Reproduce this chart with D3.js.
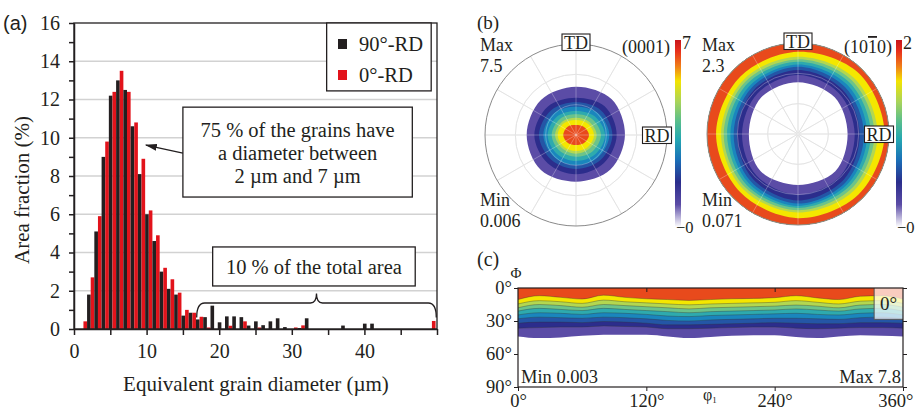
<!DOCTYPE html>
<html>
<head>
<meta charset="utf-8">
<script src="https://cdn.jsdelivr.net/npm/d3@7"></script>
<style>
  body { margin: 0; background: #fff; }
  svg { display: block; font-family: "Liberation Serif", "Times New Roman", serif; }
</style>
</head>
<body>
<div id="chart"></div>
<script>
// ---------------- data ----------------
// (a) grain size histogram, 1 µm bins
const binStart = [1,2,3,4,5,6,7,8,9,10,11,12,13,14,15,16,17,18,19,20,21,22,23,24,25,
  26,27,28,29,30,31,32,33,34,35,36,37,38,39,40,41,42,43,44,45,46,47,48,49];
const rd90 = [0,1.8,5.1,9.0,12.2,13.0,12.5,10.6,8.1,6.0,
  4.6,3.0,2.1,1.8,0.7,0.85,0.5,0.62,1.22,0.35,
  0.66,0.66,0.62,0.18,0.4,0.2,0.4,0.56,0.1,0,
  0.05,0.56,0,0,0,0,0.18,0,0,0.28,
  0.28,0,0,0,0,0,0,0,0];
const rd0 = [0.4,2.7,5.9,9.8,12.4,13.5,12.4,10.8,8.9,6.2,
  4.9,3.2,2.6,1.9,1.0,0.85,0.64,0.08,0,0,
  0.17,0,0.4,0,0.08,0,0,0,0,0.08,
  0.19,0,0,0,0,0,0,0,0,0,
  0,0,0,0,0,0,0,0,0.42];
const yTicksA = [0,2,4,6,8,10,12,14,16];
const xTicksA = [0,5,10,15,20,25,30,35,40,45,50];

// (b) pole figures: contour radii (% of pole figure radius) at these angles (0 = RD, 90 = TD)
const pfAngles = [0,45,90,135,180,225,270,315];
const levelColors = ["#5b4ca6","#2c2d8c","#2456a6","#1a86bd","#2eaaae","#6cc38a","#b3d750","#f4e700","#e84a1c"];
// (0001): outer edge of each level, low -> high
const pf0001 = [
  [53.8,55.5,53.1,54.5,54.2,54.5,51.3,53.5],
  [44.7,44.5,41,44,45.8,44,43.2,43.5],
  [40,38.5,35.9,38.5,40.7,38.5,37.4,38.5],
  [36.6,34,31.1,34,35.9,34,33,34.5],
  [31.9,29,26.4,29,31.1,29.5,28.6,30],
  [27.5,25,22.7,25,26.7,25,23.8,25.5],
  [22.7,20.5,19,21,23,21,20.5,21],
  [19.8,18,16.5,18.5,20.1,18.5,17.6,18.5],
  [14.3,12.5,11,13,14,12.5,11,12.5]
];
// (10-10): inner edge of each level, low -> high
const pf1010 = [
  [54.5,57,57,57,54,58,56,58],
  [62.3,63.5,64.8,63,61.5,64.5,66.7,65.5],
  [67.8,69,70.3,68.5,67,70,73,71],
  [72.5,73,74,72,70.7,73.5,76.5,74.5],
  [76,76.5,76.5,75,74.3,76.5,79,77.5],
  [80,80,79.4,78.5,77.9,79.5,81.2,80.5],
  [84,83.5,82,81.5,81.6,82.5,83.8,84],
  [87.5,87,84.9,84.5,84.5,85.5,86.3,87.5],
  [95.1,94.5,90.4,89.5,90,90,92.5,94]
];

// (c) ODF section: lower Φ boundary of each band (top band first) along φ1
const phi1 = [0,20,40,60,80,100,120,140,160,180,200,220,240,260,280,300,320,340,360];
const cBounds = [
  [10.5,7,8.5,10,6.5,8.5,9.8,10.5,11.3,10.5,9.8,9.5,8.8,7,9,10.5,7.5,7,10],
  [14.5,11.5,12.5,14,11,12.5,13.5,14.5,15.3,14.5,14,13.5,13,11.5,13,14.5,12,11.5,14],
  [18,15,16,17.5,15,16,17,18,19,18,17.5,17,16.5,15.5,16.5,18,15.5,15,17.5],
  [21,18.5,19.5,20.5,18.5,19.5,20.5,21.5,22.5,21.5,21,20.5,20,19,20,21,19,18.5,21],
  [24.5,22.5,23,24,22.5,23,24,25.5,26,25,24.5,24,23.5,23,24,24.5,23,22.5,24.5],
  [28,26.5,27,27.5,26.5,27,28,29.5,30,29,28.5,28,27.5,27.5,28,28.5,27,26.5,28],
  [32,31,31,31.5,30.5,31,32,33.5,33.5,33,32.5,32,31.5,32,32.5,32.5,31.5,31.5,32],
  [36.5,36,35.5,35.5,34.5,35,35.5,37,37,36.5,36,35.5,35.5,36.5,37,36.5,36,36,36.5],
  [44,45.5,45,43.5,42.5,42.5,42.5,44,45.5,44.5,43.5,43,43,44.5,45.5,44,43,43.5,44]
];
const yTicksC = [0,30,60,90];
const xTicksC = [0,120,240,360];

// ---------------- setup ----------------
const ink = "#231f20";
const svg = d3.select("#chart").append("svg").attr("width", 915).attr("height", 411);
svg.append("rect").attr("width", 915).attr("height", 411).attr("fill", "#fff");

function label(g, x, y, str, size, anchor) {
  return g.append("text").attr("x", x).attr("y", y).attr("font-size", size)
    .attr("text-anchor", anchor || "start").attr("fill", ink).text(str);
}
function styleAxis(g, size) {
  g.attr("font-family", null).attr("font-size", size);
  g.selectAll("line,path").attr("stroke", ink).attr("stroke-width", 1.5);
  g.selectAll("text").attr("fill", ink);
}

////////////////////////////  (a)  ////////////////////////////
const xA = d3.scaleLinear().domain([0, 50]).range([74, 437]);
const yA = d3.scaleLinear().domain([0, 16]).range([329, 23]);
const gA = svg.append("g");

// grid
gA.selectAll(".grid").data(yTicksA.slice(1, -1)).join("line")
  .attr("x1", xA(0)).attr("x2", xA(50))
  .attr("y1", d => yA(d)).attr("y2", d => yA(d))
  .attr("stroke", "#d2d2d2").attr("stroke-width", 1.5);

// bars
svg.append("clipPath").attr("id", "clipA").append("rect")
  .attr("x", xA(0)).attr("y", yA(16)).attr("width", xA(50) - xA(0)).attr("height", yA(0) - yA(16));
const barW = xA(0.5) - xA(0);
const barData = binStart.flatMap((b, i) => [
  { x: b - 0.2, v: rd90[i], c: ink },
  { x: b + 0.3, v: rd0[i], c: "#e2131b" }
]).filter(d => d.v > 0);
gA.append("g").attr("clip-path", "url(#clipA)")
  .selectAll("rect").data(barData).join("rect")
  .attr("x", d => xA(d.x)).attr("width", barW)
  .attr("y", d => yA(d.v)).attr("height", d => yA(0) - yA(d.v))
  .attr("fill", d => d.c);

// frame (top / right)
gA.append("rect").attr("x", xA(0)).attr("y", yA(16))
  .attr("width", xA(50) - xA(0)).attr("height", yA(0) - yA(16))
  .attr("fill", "none").attr("stroke", ink).attr("stroke-width", 1.3);

// axes
gA.append("g").attr("transform", `translate(${xA(0)},0)`)
  .call(d3.axisLeft(yA).tickValues(yTicksA).tickSize(5).tickPadding(9).tickSizeOuter(0))
  .call(g => styleAxis(g, 20));
gA.append("g").attr("transform", `translate(${xA(0)},0)`)
  .call(d3.axisLeft(yA).tickValues([1,3,5,7,9,11,13,15]).tickSize(5).tickFormat(""))
  .call(g => styleAxis(g, 20)).call(g => g.select(".domain").remove());
gA.append("g").attr("transform", `translate(0,${yA(0)})`)
  .call(d3.axisBottom(xA).tickValues(xTicksA).tickSize(6).tickPadding(9).tickSizeOuter(0)
    .tickFormat(d => (d % 10 === 0 && d < 50) ? d : ""))
  .call(g => styleAxis(g, 20));

label(gA, 22, 190, "Area fraction  (%)", 21, "middle")
  .attr("transform", "rotate(-90,22,190)").attr("dy", "0.35em");
label(gA, 256, 391, "Equivalent  grain  diameter  (\u00b5m)", 21, "middle");
label(gA, 3, 30, "(a)", 20).attr("font-family", "Liberation Sans, Arial, sans-serif");

// legend
gA.append("rect").attr("x", xA(34.8)).attr("y", yA(16)).attr("width", xA(49.2) - xA(34.8))
  .attr("height", yA(12.45) - yA(16)).attr("fill", "#fff").attr("stroke", ink).attr("stroke-width", 1.3);
[["90\u00b0-RD", ink, 51], ["0\u00b0-RD", "#e2131b", 82]].forEach(([t, c, y]) => {
  gA.append("rect").attr("x", 338).attr("y", y - 12).attr("width", 9).attr("height", 10).attr("fill", c);
  label(gA, 359, y, t, 20.5);
});

// annotation: 75 %
gA.append("rect").attr("x", xA(15)).attr("y", yA(11.6)).attr("width", xA(46.6) - xA(15))
  .attr("height", yA(6.9) - yA(11.6)).attr("fill", "#fff").attr("stroke", ink).attr("stroke-width", 1.3);
const cxBox = (xA(15) + xA(46.6)) / 2;
label(gA, cxBox, 137, "75 % of the grains have", 20.5, "middle");
label(gA, cxBox, 160, "a diameter between", 20.5, "middle");
label(gA, cxBox, 183, "2 \u00b5m  and 7 \u00b5m", 20.5, "middle");
svg.append("defs").append("marker").attr("id", "arrow")
  .attr("viewBox", "0 0 12 8").attr("refX", 11).attr("refY", 4)
  .attr("markerWidth", 12).attr("markerHeight", 8).attr("markerUnits", "userSpaceOnUse")
  .attr("orient", "auto")
  .append("path").attr("d", "M0,0.5L12,4L0,7.5Z").attr("fill", ink);
gA.append("line").attr("x1", xA(15)).attr("y1", yA(9.2)).attr("x2", xA(9.9)).attr("y2", yA(9.62))
  .attr("stroke", ink).attr("stroke-width", 1.3).attr("marker-end", "url(#arrow)");

// annotation: 10 %
gA.append("rect").attr("x", xA(19.1)).attr("y", yA(4.29)).attr("width", xA(47) - xA(19.1))
  .attr("height", yA(2.25) - yA(4.29)).attr("fill", "#fff").attr("stroke", ink).attr("stroke-width", 1.3);
label(gA, (xA(19.1) + xA(47)) / 2, 274, "10 % of the total area", 20.5, "middle");

// brace
{
  const xs = xA(16.9), xe = xA(49.9), xm = xA(33.4);
  const yb = yA(1.36), yt = yA(1.85), ye = yA(0.6);
  const p = d3.path();
  p.moveTo(xs, ye); p.quadraticCurveTo(xs, yb, xs + 8, yb);
  p.lineTo(xm - 6, yb); p.quadraticCurveTo(xm, yb, xm, yt);
  p.quadraticCurveTo(xm, yb, xm + 6, yb); p.lineTo(xe - 8, yb);
  p.quadraticCurveTo(xe, yb, xe, ye);
  gA.append("path").attr("d", p.toString()).attr("fill", "none").attr("stroke", ink).attr("stroke-width", 1.3);
}

////////////////////////////  (b)  ////////////////////////////
const pfR = 91;
const rPF = d3.scaleLinear().domain([0, 100]).range([0, pfR]);
const radial = d3.lineRadial()
  .angle(d => (90 - d.a) * Math.PI / 180)
  .radius(d => rPF(d.r))
  .curve(d3.curveCatmullRomClosed.alpha(0.5));
const toPts = arr => arr.map((r, i) => ({ a: pfAngles[i], r }));
const circlePath = r => { const p = d3.path(); p.moveTo(r, 0); p.arc(0, 0, r, 0, 2 * Math.PI); p.closePath(); return p.toString(); };

const defs = svg.select("defs");
const grad = defs.append("linearGradient").attr("id", "cbar").attr("x1", 0).attr("x2", 0).attr("y1", 0).attr("y2", 1);
[[0, "#c8161c"], [0.06, "#e8301c"], [0.14, "#f07d18"], [0.22, "#f4e400"], [0.33, "#a9d45a"],
 [0.43, "#5cbf8a"], [0.53, "#24a8b2"], [0.64, "#1a70b8"], [0.76, "#2a2d8c"], [0.88, "#5b4ca6"], [1, "#ffffff"]]
  .forEach(([o, c]) => grad.append("stop").attr("offset", o).attr("stop-color", c));

function grid(g, color, width, op) {
  [100 / 3, 200 / 3].forEach(r => g.append("circle").attr("r", rPF(r))
    .attr("fill", "none").attr("stroke", color).attr("stroke-width", width).attr("opacity", op));
  d3.range(0, 180, 30).forEach(a => {
    const t = a * Math.PI / 180;
    g.append("line").attr("x1", -pfR * Math.cos(t)).attr("y1", pfR * Math.sin(t))
      .attr("x2", pfR * Math.cos(t)).attr("y2", -pfR * Math.sin(t))
      .attr("stroke", color).attr("stroke-width", width).attr("opacity", op);
  });
}
function boxLabel(g, x, y, str) {
  const t = g.append("text").attr("x", x).attr("y", y).attr("font-size", 18)
    .attr("text-anchor", "middle").attr("fill", ink).text(str);
  const bb = t.node().getBBox();
  g.insert("rect", () => t.node()).attr("x", bb.x - 2).attr("y", y - 14.5)
    .attr("width", bb.width + 4).attr("height", 16.5)
    .attr("fill", "#fff").attr("stroke", ink).attr("stroke-width", 1.1);
}

function poleFigure(cx, cy, levels, ring, maxText, minText, plane, topTick, cbX) {
  const g = svg.append("g").attr("transform", `translate(${cx},${cy})`);
  g.append("circle").attr("r", pfR).attr("fill", "#fff");
  grid(g, "#cfcfcf", 0.8, 1);
  levels.forEach((arr, i) => {
    const d = ring ? circlePath(pfR) + radial(toPts(arr)) : radial(toPts(arr));
    g.append("path").attr("d", d).attr("fill", levelColors[i]).attr("fill-rule", "evenodd");
  });
  grid(g, "#ffffff", 0.8, 0.35);
  g.append("circle").attr("r", pfR).attr("fill", "none").attr("stroke", "#8a8a8a").attr("stroke-width", 1);
  boxLabel(g, 0, -pfR - 10 + 14.5, "TD");
  boxLabel(g, pfR - 10, 6.5, "RD");

  const s = svg.append("g");
  label(s, cx - 96, 51, "Max", 18);
  label(s, cx - 96, 72, maxText, 18);
  label(s, cx - 96, 206, "Min", 18);
  label(s, cx - 96, 227, minText, 18);
  const pt = label(s, cx + 94, 53, "", 18, "end");
  plane.forEach(([t, over]) => {
    const ts = pt.append("tspan").text(t);
    if (over) ts.attr("text-decoration", "overline");
  });
  s.append("rect").attr("x", cbX).attr("y", 40).attr("width", 6).attr("height", 187).attr("fill", "url(#cbar)");
  label(s, cbX + 7, 49, topTick, 18);
  label(s, cbX + 1, 233, "\u22120", 16.5);
}
poleFigure(576, 135, pf0001, false, "7.5", "0.006", [["(0001)", false]], "7", 675);
poleFigure(798, 134, pf1010, true, "2.3", "0.071", [["(10", false], ["1", true], ["0)", false]], "2", 896);
label(svg, 477, 29, "(b)", 19);

////////////////////////////  (c)  ////////////////////////////
const xC = d3.scaleLinear().domain([0, 360]).range([518, 903]);
const yC = d3.scaleLinear().domain([0, 90]).range([288, 387]);
const gC = svg.append("g");
svg.append("clipPath").attr("id", "clipC").append("rect")
  .attr("x", xC(0)).attr("y", yC(0)).attr("width", xC(360) - xC(0)).attr("height", yC(90) - yC(0));
const bandColors = levelColors.slice().reverse();
const bandArea = d3.area().x(d => xC(d.p)).y0(yC(0)).y1(d => yC(d.b)).curve(d3.curveMonotoneX);
const contour = d3.line().x(d => xC(d.p)).y(d => yC(d.b)).curve(d3.curveMonotoneX);
const gBands = gC.append("g").attr("clip-path", "url(#clipC)");
for (let i = cBounds.length - 1; i >= 0; i--) {
  gBands.append("path").datum(phi1.map((p, j) => ({ p, b: cBounds[i][j] })))
    .attr("d", bandArea).attr("fill", bandColors[i]);
}
cBounds.slice(0, -1).forEach(arr => {
  gBands.append("path").datum(phi1.map((p, j) => ({ p, b: arr[j] })))
    .attr("d", contour).attr("fill", "none").attr("stroke", "#333").attr("stroke-width", 0.6).attr("opacity", 0.6);
});
// inset
gC.append("rect").attr("x", xC(333)).attr("y", yC(0)).attr("width", xC(360) - xC(333)).attr("height", yC(28.5) - yC(0))
  .attr("fill", "#fff").attr("opacity", 0.72);
gC.append("path").attr("d", `M${xC(333)},${yC(0)}V${yC(28.5)}H${xC(360)}`)
  .attr("fill", "none").attr("stroke", "#555").attr("stroke-width", 1);
label(gC, (xC(333) + xC(360)) / 2, yC(14.3) + 6, "0\u00b0", 19, "middle");

gC.append("rect").attr("x", xC(0)).attr("y", yC(0)).attr("width", xC(360) - xC(0)).attr("height", yC(90) - yC(0))
  .attr("fill", "none").attr("stroke", ink).attr("stroke-width", 1.2);
gC.append("g").attr("transform", `translate(${xC(0)},0)`)
  .call(d3.axisLeft(yC).tickValues(yTicksC).tickSize(4).tickPadding(2).tickFormat(d => d + "\u00b0"))
  .call(g => styleAxis(g, 18.5)).call(g => g.select(".domain").remove())
  .call(g => g.selectAll("line").attr("stroke-width", 1));
gC.append("g").attr("transform", `translate(${xC(360)},0)`)
  .call(d3.axisRight(yC).tickValues(yTicksC).tickSize(4).tickFormat(""))
  .call(g => styleAxis(g, 18.5)).call(g => g.select(".domain").remove())
  .call(g => g.selectAll("line").attr("stroke-width", 1));
gC.append("g").attr("transform", `translate(0,${yC(90)})`)
  .call(d3.axisBottom(xC).tickValues(xTicksC).tickSize(4).tickPadding(3).tickFormat(d => d + "\u00b0"))
  .call(g => styleAxis(g, 18.5)).call(g => g.select(".domain").remove())
  .call(g => g.selectAll("line").attr("stroke-width", 1))
  .call(g => g.selectAll(".tick").filter(d => d === 360).select("text")
    .attr("text-anchor", "end").attr("x", 10));
gC.append("g").attr("transform", `translate(0,${yC(0)})`)
  .call(d3.axisBottom(xC).tickValues([120, 240]).tickSize(4).tickFormat(""))
  .call(g => styleAxis(g, 18.5)).call(g => g.select(".domain").remove())
  .call(g => g.selectAll("line").attr("stroke-width", 1));

label(gC, xC(0) + 3, 383, "Min 0.003", 18.5);
label(gC, xC(360) - 2, 383, "Max 7.8", 18.5, "end");
const phiLab = label(gC, 703, 400, "\u03c6", 16);
phiLab.append("tspan").attr("font-size", 9).attr("dy", 3).text("1");
label(gC, 516, 278, "\u03a6", 15, "middle");
label(gC, 477, 266, "(c)", 20);
</script>
</body>
</html>
